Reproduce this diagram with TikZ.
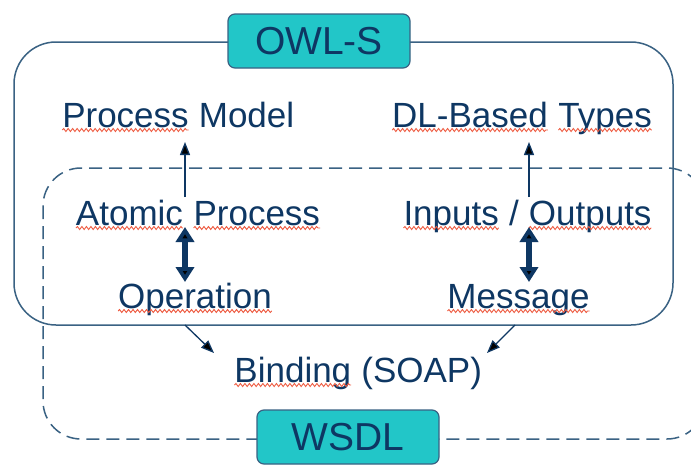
\documentclass[tikz,border=0pt]{standalone}
\usepackage{fontspec}
\setmainfont{Liberation Sans}
\usetikzlibrary{arrows.meta,decorations.pathmorphing,calc}

\definecolor{ink}{HTML}{0E3763}
\definecolor{frame}{HTML}{3A6283}
\definecolor{tagfill}{HTML}{22C6C8}
\definecolor{spell}{HTML}{EE5A40}

% word with a red wavy underline
\newcommand\spellmark[1]{\tikz[baseline=(w.base)]{%
  \node[inner sep=0pt,outer sep=0pt] (w) {#1};%
  \draw[spell,line width=0.9pt,decorate,
        decoration={snake,amplitude=1.5pt,segment length=4.5pt}]
    ([yshift=-3pt]w.base west) -- ([yshift=-3pt]w.base east);}}

\begin{document}
\begin{tikzpicture}[x=1pt,y=-1pt,
  lbl/.style={font=\fontsize{35}{40}\selectfont, text=ink, inner sep=0pt, anchor=base},
  tag/.style={draw=frame, line width=1.2pt, fill=tagfill, rounded corners=7pt,
              minimum width=182pt, minimum height=54pt,
              font=\fontsize{39}{44}\selectfont, text=ink},
  thinarrow/.style={draw=ink, line width=1.3pt, -{Triangle[width=10pt,length=13pt]}},
  thickarrow/.style={draw=ink, line width=6pt,
              {Triangle[width=18pt,length=15pt]}-{Triangle[width=18pt,length=15pt]}},
  solidframe/.style={draw=frame, line width=1.5pt, rounded corners=42pt},
  dashframe/.style={draw=frame, line width=1.5pt, rounded corners=38pt,
              dash pattern=on 13pt off 7pt}]

\useasboundingbox (0,0) rectangle (691,466);
\fill[white] (0,0) rectangle (691,466);

% the two overlapping containers
\draw[solidframe] (14,42) rectangle (673,325);
\draw[dashframe] (43,168) rectangle (705,439);

% labels of the containers
\node[tag] (owls) at (319,41) {OWL-S};
\node[tag] (wsdl) at (348,437) {WSDL};

% concepts
\node[lbl] (pm) at (178,127) {\spellmark{Process} Model};
\node[lbl] (dl) at (522,127) {\spellmark{DL-Based} \spellmark{Types}};
\node[lbl] (ap) at (198,225) {\spellmark{Atomic} \spellmark{Process}};
\node[lbl] (io) at (527.5,225) {\spellmark{Inputs} / \spellmark{Outputs}};
\node[lbl] (op) at (195,308) {\spellmark{Operation}};
\node[lbl] (ms) at (518.5,308) {\spellmark{Message}};
\node[lbl] (bd) at (358,382) {\spellmark{Binding} (SOAP)};

% columns of the vertical connectors
\coordinate (lx) at (185,0);
\coordinate (rx) at (529,0);

% grounding arrows up to the OWL-S concepts
\draw[thinarrow] ($(ap.base -| lx)+(0,-28)$) -- ($(pm.base -| lx)+(0,15)$);
\draw[thinarrow] ($(io.base -| rx)+(0,-28)$) -- ($(dl.base -| rx)+(0,15)$);

% correspondences between OWL-S and WSDL
\draw[thickarrow] ($(ap.base -| lx)+(0,2)$) -- ($(op.base -| lx)+(0,-26)$);
\draw[thickarrow] ($(io.base -| rx)+(0,2)$) -- ($(ms.base -| rx)+(0,-26)$);

% both feed the binding
\draw[thinarrow] ($(op.base)+(-10,17)$) -- ($(bd.base)+(-144,-29)$);
\draw[thinarrow] ($(ms.base)+(-3.5,17)$) -- ($(bd.base)+(129,-29)$);
\end{tikzpicture}
\end{document}
